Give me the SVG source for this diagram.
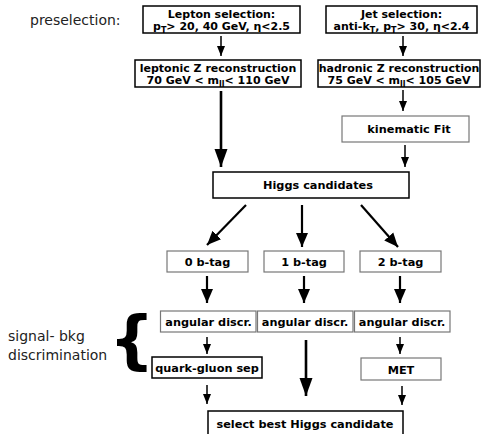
<svg xmlns="http://www.w3.org/2000/svg" width="490" height="434" viewBox="0 0 490 434">
<defs>
<style>
.box{fill:#fff;stroke:#000;stroke-width:1.5}
.gbox{fill:#fff;stroke:#777;stroke-width:1.2}
.t{font-family:"DejaVu Sans",sans-serif;font-weight:bold;font-size:11px;text-anchor:middle;fill:#000}
.t2{font-family:"DejaVu Sans",sans-serif;font-weight:bold;font-size:11.3px;text-anchor:middle;fill:#000}
.lab{font-family:"DejaVu Sans",sans-serif;font-size:14px;fill:#222}
.sub{font-size:8px}
.thin{stroke:#000;stroke-width:1.5;fill:none;marker-end:url(#hs)}
.mid{stroke:#000;stroke-width:2.2;fill:none;marker-end:url(#hm)}
.thick{stroke:#000;stroke-width:2.6;fill:none;marker-end:url(#hl)}
</style>
<marker id="hs" markerUnits="userSpaceOnUse" markerWidth="10" markerHeight="12" viewBox="0 0 10 12" refX="10" refY="5" orient="auto"><path d="M0,1 L10,5 L0,9 Z" fill="#000"/></marker>
<marker id="hm" markerUnits="userSpaceOnUse" markerWidth="14" markerHeight="14" viewBox="0 0 14 14" refX="14" refY="7" orient="auto"><path d="M0,1 L14,7 L0,13 Z" fill="#000"/></marker>
<marker id="hl" markerUnits="userSpaceOnUse" markerWidth="18" markerHeight="16" viewBox="0 0 18 16" refX="18" refY="8" orient="auto"><path d="M0,1.5 L18,8 L0,14.5 Z" fill="#000"/></marker>
</defs>
<rect width="490" height="434" fill="#fff"/>

<text class="lab" x="30" y="25">preselection:</text>
<text class="lab" x="8" y="341">signal- bkg</text>
<text class="lab" x="8" y="360">discrimination</text>
<text x="109" y="362" font-family="DejaVu Sans,sans-serif" font-weight="bold" font-size="64" fill="#000">{</text>

<g id="connectors">
<line class="thin" x1="221" y1="36" x2="221" y2="56"/>
<line class="thin" x1="403" y1="36" x2="403" y2="56"/>
<line class="thick" x1="221" y1="91" x2="221" y2="167"/>
<line class="thin" x1="403" y1="90" x2="403" y2="111"/>
<line class="thin" x1="405" y1="145" x2="405" y2="167"/>
<line class="mid" x1="246" y1="205" x2="207" y2="245"/>
<line class="mid" x1="302" y1="205" x2="302" y2="247"/>
<line class="mid" x1="361" y1="205" x2="398" y2="247"/>
<line class="mid" x1="207" y1="276" x2="207" y2="303"/>
<line class="mid" x1="304" y1="276" x2="304" y2="303"/>
<line class="mid" x1="400" y1="276" x2="400" y2="303"/>
<line class="thin" x1="207" y1="337" x2="207" y2="354"/>
<line class="thick" x1="306" y1="340" x2="306" y2="396"/>
<line class="thin" x1="400" y1="337" x2="400" y2="354"/>
<line class="thin" x1="207" y1="385" x2="207" y2="404"/>
<line class="thin" x1="402" y1="386" x2="402" y2="405"/>
</g>

<g id="lepton">
<rect class="box" x="143" y="6" width="157" height="27"/>
<text class="t" x="221.5" y="18">Lepton selection:</text>
<text class="t" x="221.5" y="30">p<tspan class="sub" dy="3">T</tspan><tspan dy="-3">&gt; 20, 40 GeV, η&lt;2.5</tspan></text>
</g>
<g id="jet">
<rect class="box" x="326" y="6" width="151" height="27"/>
<text class="t" x="401.5" y="18">Jet selection:</text>
<text class="t" x="401.5" y="30">anti-k<tspan class="sub" dy="3">T</tspan><tspan dy="-3">, p</tspan><tspan class="sub" dy="3">T</tspan><tspan dy="-3">&gt; 30, η&lt;2.4</tspan></text>
</g>
<g id="lepZ">
<rect class="box" x="135" y="60" width="166" height="27"/>
<text class="t" x="218" y="72">leptonic Z reconstruction</text>
<text class="t" x="218" y="84">70 GeV &lt; m<tspan class="sub" dy="3">ll</tspan><tspan dy="-3">&lt; 110 GeV</tspan></text>
</g>
<g id="hadZ">
<rect class="box" x="318" y="60" width="162" height="27"/>
<text class="t" x="399" y="72">hadronic Z reconstruction</text>
<text class="t" x="399" y="84">75 GeV &lt; m<tspan class="sub" dy="3">ll</tspan><tspan dy="-3">&lt; 105 GeV</tspan></text>
</g>
<g id="kinfit">
<rect class="gbox" x="342" y="116" width="127" height="26"/>
<text class="t2" x="409" y="133">kinematic Fit</text>
</g>
<g id="higgs">
<rect class="box" x="213" y="172" width="196" height="26"/>
<text class="t2" x="318" y="189">Higgs candidates</text>
</g>
<g id="btag0">
<rect class="gbox" x="167" y="251" width="81" height="21"/>
<text class="t2" x="207.5" y="266">0 b-tag</text>
</g>
<g id="btag1">
<rect class="gbox" x="264" y="251" width="80" height="21"/>
<text class="t2" x="304" y="266">1 b-tag</text>
</g>
<g id="btag2">
<rect class="gbox" x="360" y="251" width="81" height="21"/>
<text class="t2" x="400.5" y="266">2 b-tag</text>
</g>
<g id="ang0">
<rect class="gbox" x="160.5" y="311" width="95.5" height="21"/>
<text class="t2" x="208.5" y="325.5">angular discr.</text>
</g>
<g id="ang1">
<rect class="gbox" x="257.5" y="311" width="95.5" height="21"/>
<text class="t2" x="305" y="325.5">angular discr.</text>
</g>
<g id="ang2">
<rect class="gbox" x="354.5" y="311" width="95.5" height="21"/>
<text class="t2" x="402" y="325.5">angular discr.</text>
</g>
<g id="qg">
<rect class="box" x="152" y="357" width="110" height="21" stroke-width="1.2" stroke="#333"/>
<text class="t2" x="207" y="372">quark-gluon sep</text>
</g>
<g id="met">
<rect class="gbox" x="361" y="358" width="80" height="22"/>
<text class="t2" x="401" y="373.5">MET</text>
</g>
<g id="select">
<rect class="box" x="208" y="411" width="195" height="30"/>
<text class="t2" x="305" y="428">select best Higgs candidate</text>
</g>
</svg>
